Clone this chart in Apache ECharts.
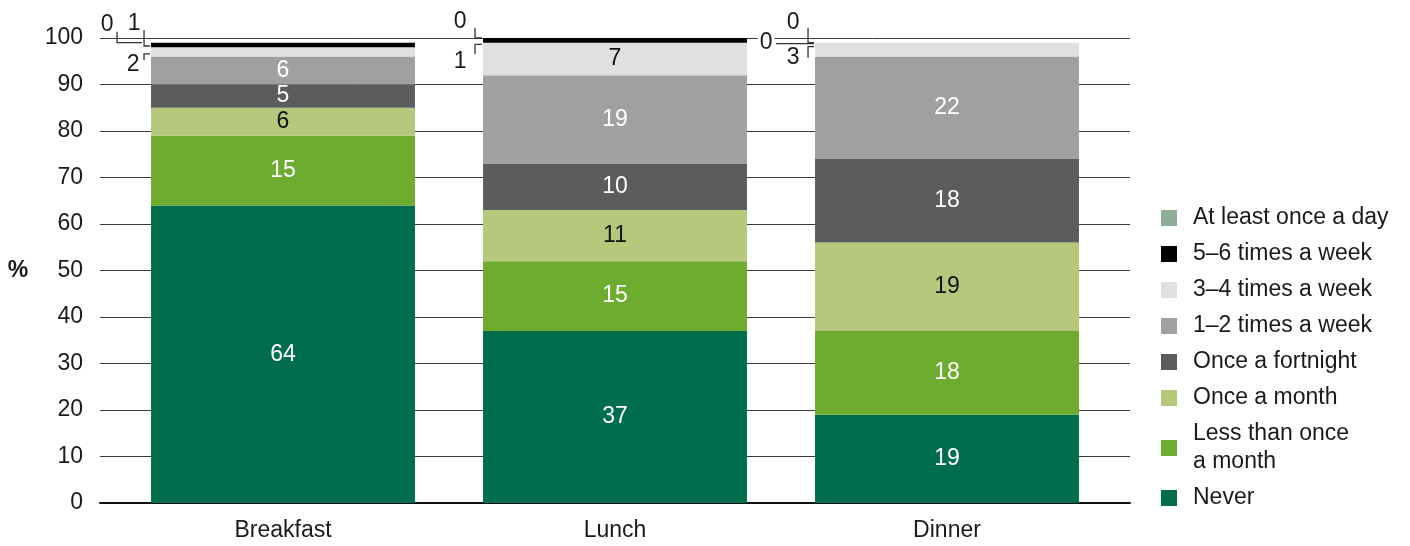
<!DOCTYPE html>
<html>
<head>
<meta charset="utf-8">
<script src="https://cdn.jsdelivr.net/npm/echarts@6/dist/echarts.min.js"></script>
<style>
  html, body { margin: 0; padding: 0; background: #fff; }
  #chart { width: 1410px; height: 546px; }
</style>
</head>
<body>
<div id="chart"></div>
<script>
// Meals and how often they are skipped, % of respondents (stacked to 100)
const CATEGORIES = ['Breakfast', 'Lunch', 'Dinner'];
const FREQUENCIES = [
  'Never',
  'Less than once a month',
  'Once a month',
  'Once a fortnight',
  '1–2 times a week',
  '3–4 times a week',
  '5–6 times a week',
  'At least once a day'
];
const NEVER = [64, 37, 19];
const LESS_THAN_MONTHLY = [15, 15, 18];
const MONTHLY = [6, 11, 19];
const FORTNIGHTLY = [5, 10, 18];
const WEEKLY_1_2 = [6, 19, 22];
const WEEKLY_3_4 = [2, 7, 3];
const WEEKLY_5_6 = [1, 1, 0];
const DAILY = [0, 0, 0];
const SERIES_VALUES = [NEVER, LESS_THAN_MONTHLY, MONTHLY, FORTNIGHTLY, WEEKLY_1_2, WEEKLY_3_4, WEEKLY_5_6, DAILY];

const Y_MIN = 0;
const Y_MAX = 100;
const Y_STEP = 10;
const Y_NAME = '%';

// Legend wording (one entry wraps onto two lines)
const LEGEND_LABELS = {
  'Less than once a month': 'Less than once\na month'
};

const COLORS = ['#006E4D', '#6EAC2F', '#B5C87B', '#5C5C5E', '#A0A0A0', '#DFE1E0', '#000000', '#8FAE9A'];
const LABEL_COLORS = ['#fff', '#fff', '#111', '#fff', '#fff', '#111', '#fff', '#fff'];
const FONT = '"Liberation Sans", Arial, Helvetica, sans-serif';
const TEXT = '#1a1a1a';
const BAR_RATIO = 0.795;

// Thin segments are labelled outside the bar with a small bracket.
// text: label offset from the anchor (bar left edge, segment middle); guide: bracket points.
const CALLOUTS = [
  { cat: 0, series: 7, text: [-44, -18], guide: [[-34, -11], [-34, 0], [-9, 0]] },
  { cat: 0, series: 6, text: [-17, -21], guide: [[-7, -15], [-7, 1], [-1, 1]] },
  { cat: 0, series: 5, text: [-18, 13], guide: [[-7, 8], [-7, 2], [-1, 2]] },
  { cat: 1, series: 7, text: [-23, -16], guide: [[-8, -10], [-8, 0], [-1, 0]] },
  { cat: 1, series: 6, text: [-23, 21], guide: [[-8, 14], [-8, 4], [-1, 4]] },
  { cat: 2, series: 7, text: [-49, 0], guide: [[-39, 1], [-1, 1]] },
  { cat: 2, series: 6, text: [-22, -20], guide: [[-7, -15], [-7, 0], [-1, 0]] },
  { cat: 2, series: 5, text: [-22, 8], guide: [[-7, 8], [-7, -3], [-1, -3]] }
];

const hasCallout = (cat, s) => CALLOUTS.some(c => c.cat === cat && c.series === s);

function segmentMiddle(cat, s) {
  let base = 0;
  for (let i = 0; i < s; i++) base += SERIES_VALUES[i][cat];
  return base + SERIES_VALUES[s][cat] / 2;
}

const barSeries = FREQUENCIES.map((name, s) => ({
  name,
  type: 'bar',
  stack: 'total',
  xAxisIndex: 1,
  yAxisIndex: 1,
  barWidth: (BAR_RATIO * 100) + '%',
  itemStyle: { color: COLORS[s] },
  label: {
    show: true,
    position: 'inside',
    color: LABEL_COLORS[s],
    fontFamily: FONT,
    fontSize: 23
  },
  emphasis: { disabled: true },
  data: SERIES_VALUES[s].map((v, cat) => ({
    value: v,
    label: { show: !hasCallout(cat, s) }
  }))
}));

const calloutSeries = {
  type: 'custom',
  name: 'callouts',
  xAxisIndex: 1,
  yAxisIndex: 1,
  clip: false,
  z: 5,
  silent: true,
  data: CALLOUTS.map((c, i) => [c.cat, segmentMiddle(c.cat, c.series), i]),
  renderItem(params, api) {
    const c = CALLOUTS[api.value(2)];
    const p = api.coord([api.value(0), api.value(1)]);
    const band = api.size([1, 0])[0];
    const x0 = p[0] - band * BAR_RATIO / 2;
    const y0 = p[1];
    return {
      type: 'group',
      children: [
        {
          type: 'polyline',
          shape: { points: c.guide.map(pt => [x0 + pt[0], y0 + pt[1]]) },
          style: { stroke: '#333', lineWidth: 1.3, fill: null }
        },
        {
          type: 'text',
          x: x0 + c.text[0],
          y: y0 + c.text[1],
          style: {
            text: String(SERIES_VALUES[c.series][c.cat]),
            fill: TEXT,
            font: '23px ' + FONT,
            align: 'center',
            verticalAlign: 'middle',
            backgroundColor: '#fff',
            padding: [0, 2]
          }
        }
      ]
    };
  }
};

const chart = echarts.init(document.getElementById('chart'), null, { renderer: 'canvas' });

chart.setOption({
  animation: false,
  backgroundColor: '#fff',
  textStyle: { fontFamily: FONT, color: TEXT },
  grid: [
    { left: 100, right: 280, top: 38, bottom: 43 },
    { left: 117, right: 297, top: 38, bottom: 43 }
  ],
  xAxis: [
    {
      gridIndex: 0,
      type: 'category',
      data: CATEGORIES,
      axisLine: { show: true, lineStyle: { color: '#111', width: 2 } },
      axisTick: { show: false },
      axisLabel: { show: false },
      splitLine: { show: false }
    },
    {
      gridIndex: 1,
      type: 'category',
      data: CATEGORIES,
      axisLine: { show: false },
      axisTick: { show: false },
      axisLabel: { color: TEXT, fontFamily: FONT, fontSize: 23, margin: 16 },
      splitLine: { show: false }
    }
  ],
  yAxis: [
    {
      gridIndex: 0,
      type: 'value',
      min: Y_MIN,
      max: Y_MAX,
      interval: Y_STEP,
      name: Y_NAME,
      nameLocation: 'middle',
      nameRotate: 0,
      nameGap: 82,
      nameTextStyle: {
        color: TEXT, fontFamily: FONT, fontSize: 23, fontWeight: 'bold',
        align: 'center', verticalAlign: 'middle'
      },
      axisLine: { show: false },
      axisTick: { show: false },
      axisLabel: { color: TEXT, fontFamily: FONT, fontSize: 23, margin: 17 },
      splitLine: { show: true, lineStyle: { color: '#3a3a3a', width: 1 } }
    },
    {
      gridIndex: 1,
      type: 'value',
      min: Y_MIN,
      max: Y_MAX,
      interval: Y_STEP,
      axisLine: { show: false },
      axisTick: { show: false },
      axisLabel: { show: false },
      splitLine: { show: false }
    }
  ],
  legend: {
    orient: 'vertical',
    left: 1156,
    top: 199,
    padding: 5,
    itemWidth: 16,
    itemHeight: 16,
    itemGap: 8,
    icon: 'rect',
    selectedMode: false,
    data: FREQUENCIES.slice().reverse(),
    formatter: name => LEGEND_LABELS[name] || name,
    textStyle: {
      color: TEXT,
      fontFamily: FONT,
      fontSize: 23,
      lineHeight: 28,
      padding: [0, 0, 0, 11]
    }
  },
  series: [...barSeries, calloutSeries]
});
</script>
</body>
</html>
